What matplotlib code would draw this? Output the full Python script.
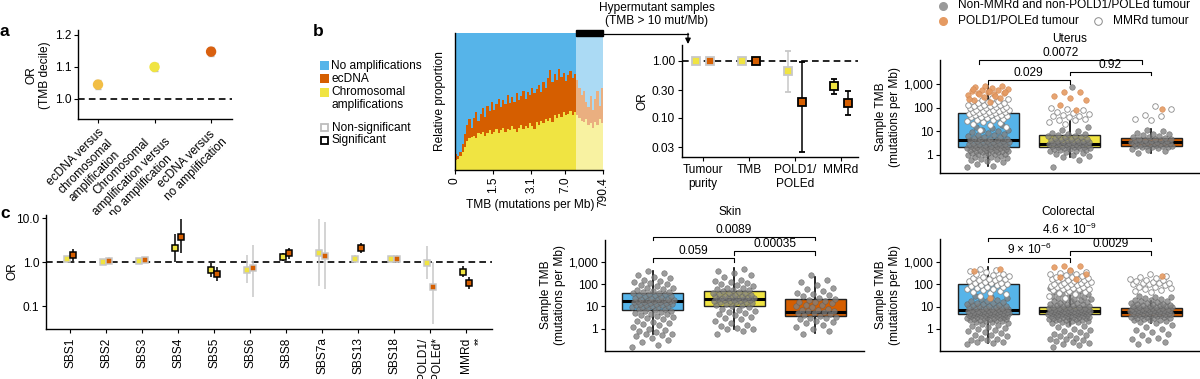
#!/usr/bin/env python3
"""ecDNA vs TMB multi-panel figure."""

import matplotlib

matplotlib.use("Agg")
import matplotlib.colors as mcolors
import matplotlib.pyplot as plt
import numpy as np
from matplotlib.patches import Rectangle
from matplotlib.ticker import NullLocator

W, H = 1200, 379
FS = 8.6
BLUE, ORANGE, YELLOW = "#56B4E9", "#D55E00", "#F0E442"
SIG_GREY = "#C8C8C8"

# ---- panel a ----
a_labels = [
    "ecDNA versus\nchromosomal\namplification",
    "Chromosomal\namplification versus\nno amplification",
    "ecDNA versus\nno amplification",
]
a_or = [1.045, 1.100, 1.148]
a_lo = [1.030, 1.088, 1.133]
a_hi = [1.060, 1.113, 1.163]
a_colors = ["#F2BE45", "#F0E442", "#D9600F"]

# ---- panel b, stacked proportions per TMB bin ----
bar_chrom = [
    0.07, 0.08, 0.10, 0.13, 0.17, 0.21, 0.23, 0.24, 0.25, 0.23,
    0.27, 0.26, 0.28, 0.25, 0.27, 0.29, 0.26, 0.28, 0.30, 0.27,
    0.29, 0.31, 0.28, 0.30, 0.29, 0.32, 0.30, 0.28, 0.31, 0.33,
    0.30, 0.32, 0.31, 0.34, 0.32, 0.30, 0.35, 0.33, 0.36, 0.34,
    0.37, 0.36, 0.38, 0.35, 0.40, 0.38, 0.41, 0.39, 0.42, 0.40,
    0.41, 0.43, 0.40, 0.42,
    0.40, 0.38, 0.36, 0.35, 0.37, 0.33, 0.34, 0.31, 0.35, 0.33, 0.37, 0.34,
]
bar_ecdna_top = [
    0.12, 0.10, 0.13, 0.19, 0.26, 0.33, 0.37, 0.31, 0.38, 0.42,
    0.36, 0.41, 0.45, 0.39, 0.47, 0.43, 0.50, 0.44, 0.48, 0.52,
    0.46, 0.51, 0.48, 0.55, 0.49, 0.53, 0.50, 0.56, 0.51, 0.54,
    0.58, 0.52, 0.57, 0.55, 0.60, 0.56, 0.59, 0.62, 0.57, 0.64,
    0.60, 0.67, 0.73, 0.64, 0.70, 0.66, 0.74, 0.68, 0.71, 0.65,
    0.69, 0.72, 0.67, 0.70,
    0.66, 0.60, 0.55, 0.58, 0.50, 0.46, 0.54, 0.44, 0.52, 0.58, 0.47, 0.60,
]
hyper_start = 54
tmb_tick_bins = [0, 17, 34, 49, 66]
tmb_tick_labels = ["0", "1.5", "3.1", "7.0", "790.4"]

# ---- panel b, odds ratios in hypermutant samples ----
or_cats = ["Tumour\npurity", "TMB", "POLD1/\nPOLEd", "MMRd"]
or_chrom = [1.0, 1.0, 0.67, 0.36]
or_chrom_lo = [0.97, 0.98, 0.28, 0.26]
or_chrom_hi = [1.03, 1.02, 1.5, 0.47]
or_chrom_sig = [False, False, False, True]
or_ecdna = [1.0, 1.0, 0.19, 0.18]
or_ecdna_lo = [0.97, 0.98, 0.025, 0.11]
or_ecdna_hi = [1.03, 1.02, 0.93, 0.29]
or_ecdna_sig = [False, True, True, True]

# ---- panel c ----
sbs_labels = ["SBS1", "SBS2", "SBS3", "SBS4", "SBS5", "SBS6", "SBS8", "SBS7a",
              "SBS13", "SBS18", "POLD1/\nPOLEd*", "MMRd"]
c_chrom = [1.17, 1.0, 1.05, 2.08, 0.67, 0.68, 1.3, 1.6, 1.18, 1.18, 0.97, 0.61]
c_chrom_lo = [1.0, 0.85, 0.92, 1.0, 0.47, 0.33, 1.05, 0.28, 0.95, 1.0, 0.42, 0.45]
c_chrom_hi = [1.4, 1.15, 1.2, 4.3, 0.98, 1.45, 1.6, 9.5, 1.45, 1.4, 2.4, 0.82]
c_chrom_sig = [False, False, False, True, True, False, True, False, False, False, False, True]
c_ecdna = [1.46, 1.07, 1.12, 3.8, 0.54, 0.75, 1.6, 1.35, 2.15, 1.18, 0.27, 0.34]
c_ecdna_lo = [1.05, 0.9, 0.95, 1.6, 0.38, 0.16, 1.2, 0.25, 1.65, 0.97, 0.038, 0.24]
c_ecdna_hi = [2.0, 1.3, 1.3, 9.5, 0.78, 2.5, 2.1, 8.2, 2.8, 1.45, 1.0, 0.47]
c_ecdna_sig = [True, False, False, True, True, False, True, False, True, False, False, True]

# ---- box plots: sample TMB per amplification class (none, chrom, ecDNA) ----
ut_q1 = [2.2, 2.25, 2.5]
ut_med = [4.2, 3.0, 3.6]
ut_q3 = [60, 7.0, 5.3]
ut_wlo = [0.35, 0.85, 1.2]
ut_whi = [870, 43, 12.7]
ut_pvals = ["0.029", "0.92", "0.0072"]
ut_other = [
    [0.3, 0.35, 0.42, 0.5, 0.55, 0.6, 0.65, 0.7, 0.75, 0.8, 0.85, 0.9, 0.95, 1.0, 1.05,
     1.1, 1.1, 1.2, 1.2, 1.3, 1.3, 1.4, 1.4, 1.5, 1.5, 1.6, 1.6, 1.7, 1.7, 1.8, 1.8, 1.9,
     1.9, 2.0, 2.0, 2.1, 2.1, 2.2, 2.2, 2.3, 2.4, 2.4, 2.5, 2.5, 2.6, 2.6, 2.7, 2.8, 2.9,
     3.0, 3.0, 3.1, 3.2, 3.3, 3.4, 3.5, 3.6, 3.8, 3.9, 4.0, 4.2, 4.4, 4.6, 4.8, 5.0, 5.3,
     5.6, 6.0, 6.4, 6.8, 7.3, 7.8, 8.5, 9.2, 10, 11, 12, 14, 16, 19],
    [0.3, 0.6, 0.8, 0.9, 1.0, 1.1, 1.2, 1.3, 1.4, 1.5, 1.6, 1.7, 1.8, 1.8, 1.9, 2.0, 2.0,
     2.1, 2.2, 2.2, 2.3, 2.4, 2.5, 2.5, 2.6, 2.7, 2.8, 2.8, 2.9, 3.0, 3.0, 3.1, 3.2, 3.3,
     3.3, 3.4, 3.5, 3.6, 3.7, 3.8, 4.0, 4.2, 4.4, 4.5, 4.6, 4.8, 5.0, 5.3, 5.6, 6.0, 6.2,
     6.5, 7.0, 7.5, 8.0, 9.0, 10, 12, 15, 750],
    [1.2, 1.4, 1.6, 1.8, 2.0, 2.1, 2.2, 2.2, 2.3, 2.4, 2.5, 2.5, 2.6, 2.7, 2.8, 2.9, 3.0,
     3.0, 3.1, 3.2, 3.3, 3.4, 3.5, 3.6, 3.6, 3.7, 3.8, 3.9, 4.0, 4.2, 4.2, 4.4, 4.6, 4.8,
     5.0, 5.3, 5.6, 6.0, 6.5, 7.0, 7.5, 8.0, 9.0, 10, 11],
]
ut_pole = [
    [180, 220, 260, 300, 340, 380, 420, 450, 480, 520, 560, 600, 650, 700, 760, 820, 880,
     250, 330, 400, 470, 550, 640],
    [82, 135, 220, 275, 325, 490, 490],
    [90],
]
ut_mmr = [
    [12, 15, 18, 20, 22, 25, 28, 30, 32, 35, 38, 40, 40, 42, 45, 48, 50, 52, 55, 58, 60,
     62, 65, 68, 70, 72, 75, 78, 80, 85, 90, 95, 100, 105, 110, 115, 120, 125, 130, 135,
     140, 150, 160, 170, 180, 190, 200, 210, 230, 260],
    [20, 25, 30, 30, 35, 40, 45, 45, 50, 55, 60, 70, 80, 90, 100],
    [30, 35, 45, 50, 90, 120],
]

skin_q1 = [6.9, 10.4, 3.7]
skin_med = [17.5, 21.5, 5.8]
skin_q3 = [39, 50, 21]
skin_wlo = [0.6, 1.0, 0.66]
skin_whi = [390, 510, 200]
skin_pvals = ["0.059", "0.00035", "0.0089"]
skin_other = [
    [0.15, 0.18, 0.25, 0.3, 0.4, 0.45, 0.5, 0.55, 0.6, 0.7, 0.8, 0.9, 1.0, 1.2, 1.4, 1.6,
     1.8, 2.0, 2.3, 2.6, 3.0, 3.3, 3.6, 4.0, 4.4, 4.8, 5.2, 5.6, 6.0, 6.5, 7.0, 7.5, 8.0,
     8.5, 9.0, 9.0, 9.5, 10, 10.5, 11, 11, 12, 12.5, 13, 13, 14, 14, 15, 16, 16, 17, 18,
     18, 19, 20, 20, 21, 22, 22, 24, 25, 26, 28, 30, 32, 34, 35, 36, 38, 40, 43, 46, 50,
     55, 60, 65, 70, 80, 90, 100, 110, 125, 140, 160, 180, 200, 250, 300, 400],
    [0.6, 0.8, 1.0, 1.0, 1.1, 1.3, 1.5, 1.8, 2.2, 2.6, 3.0, 3.5, 4.0, 4.5, 5.0, 5.5, 6.0,
     7.0, 8.0, 9.0, 10, 11, 12, 13, 14, 15, 15, 16, 17, 18, 18, 19, 20, 20, 21, 22, 23, 24,
     25, 25, 26, 28, 28, 30, 30, 32, 34, 36, 38, 40, 42, 45, 48, 52, 56, 60, 65, 70, 80,
     90, 100, 110, 120, 140, 160, 200, 250, 300, 400, 500],
    [0.6, 0.8, 1.0, 1.2, 1.5, 1.8, 2.0, 2.3, 2.6, 3.0, 3.0, 3.3, 3.6, 4.0, 4.5, 5.0, 5.0,
     5.5, 6.0, 6.5, 7.0, 7.0, 8.0, 9.0, 10, 11, 12, 14, 15, 16, 18, 20, 22, 25, 28, 32,
     36, 40, 50, 60, 70, 90, 120, 160, 250],
]
skin_pole = [[], [], []]
skin_mmr = [[], [], []]

col_q1 = [4.7, 4.7, 3.9]
col_med = [7.1, 6.6, 5.8]
col_q3 = [104, 10, 8.5]
col_wlo = [0.23, 1.5, 1.9]
col_whi = [620, 30, 17]
col_pvals = ["9 × 10$^{-6}$", "0.0029", "4.6 × 10$^{-9}$"]
col_other = [
    [0.2, 0.22, 0.25, 0.26, 0.3, 0.32, 0.35, 0.4, 0.45, 0.5, 0.55, 0.62, 0.7, 0.8, 0.9,
     1.0, 1.1, 1.2, 1.35, 1.5, 1.7, 1.8, 2.0, 2.1, 2.2, 2.3, 2.4, 2.5, 2.6, 2.7, 2.8, 2.9,
     3.0, 3.0, 3.1, 3.2, 3.3, 3.4, 3.5, 3.6, 3.7, 3.8, 3.9, 4.0, 4.0, 4.1, 4.2, 4.3, 4.4,
     4.5, 4.5, 4.6, 4.7, 4.8, 4.9, 5.0, 5.0, 5.1, 5.2, 5.3, 5.4, 5.5, 5.6, 5.7, 5.8, 5.9,
     6.0, 6.0, 6.2, 6.4, 6.6, 6.8, 7.0, 7.2, 7.4, 7.6, 7.8, 8.0, 8.3, 8.6, 9.0, 9.4, 9.8,
     10.2, 10.6, 11, 11.5, 12, 12.5, 13, 14, 15, 16, 17, 18, 20, 22, 25, 28, 30],
    [0.15, 0.18, 0.2, 0.22, 0.25, 0.28, 0.3, 0.33, 0.36, 0.4, 0.45, 0.5, 0.55, 0.6, 0.7,
     0.8, 0.9, 1.0, 1.2, 1.4, 1.6, 1.8, 2.0, 2.1, 2.2, 2.3, 2.4, 2.5, 2.6, 2.7, 2.8, 2.9,
     3.0, 3.1, 3.2, 3.3, 3.4, 3.5, 3.5, 3.6, 3.7, 3.8, 3.9, 4.0, 4.1, 4.2, 4.3, 4.4, 4.5,
     4.5, 4.6, 4.7, 4.8, 4.9, 5.0, 5.1, 5.2, 5.3, 5.4, 5.5, 5.5, 5.6, 5.7, 5.8, 5.9, 6.0,
     6.1, 6.2, 6.3, 6.4, 6.5, 6.5, 6.6, 6.7, 6.8, 6.9, 7.0, 7.2, 7.4, 7.5, 7.6, 7.8, 8.0,
     8.2, 8.4, 8.6, 8.8, 9.0, 9.3, 9.6, 10, 10.5, 11, 11.5, 12, 12.5, 13, 13.5, 14, 15, 16,
     17, 18, 19, 20, 21, 22, 24, 26, 28, 30, 32, 35, 38, 40, 45, 50, 60, 70, 80],
    [0.2, 0.25, 0.3, 0.35, 0.4, 0.5, 0.6, 0.7, 0.85, 1.0, 1.2, 1.5, 1.8, 2.0, 2.2, 2.4,
     2.5, 2.6, 2.8, 3.0, 3.0, 3.2, 3.3, 3.4, 3.5, 3.6, 3.8, 4.0, 4.0, 4.2, 4.3, 4.4, 4.5,
     4.6, 4.8, 4.8, 5.0, 5.0, 5.2, 5.3, 5.4, 5.5, 5.6, 5.8, 5.8, 6.0, 6.0, 6.2, 6.3, 6.4,
     6.5, 6.6, 6.8, 7.0, 7.0, 7.2, 7.3, 7.4, 7.5, 7.6, 7.8, 8.0, 8.3, 8.5, 8.6, 9.0, 9.4,
     9.5, 9.8, 10.2, 10.6, 11, 11.5, 11.5, 12, 12.5, 13, 13.5, 14, 15, 16, 17, 18, 19, 20,
     22, 24, 26, 28, 30],
]
col_pole = [[25, 400, 480], [180, 220, 300, 450, 600, 650, 700], [250]]
col_mmr = [
    [30, 35, 40, 45, 50, 55, 60, 65, 70, 75, 80, 85, 90, 95, 100, 110, 120, 120, 130, 140,
     150, 160, 170, 180, 190, 200, 220, 240, 260, 280, 300, 350, 400, 450, 500],
    [25, 30, 35, 40, 45, 50, 55, 60, 60, 65, 70, 75, 80, 80, 85, 90, 95, 100, 100, 105,
     110, 120, 130, 140, 150, 150, 160, 170, 180, 190, 200, 210, 220, 240, 260, 280, 300,
     330, 360, 400],
    [45, 50, 55, 60, 70, 80, 80, 90, 100, 100, 110, 120, 120, 130, 140, 150, 160, 180,
     200, 220, 250, 300],
]

plt.rcParams["font.family"] = ["Liberation Sans", "DejaVu Sans"]
plt.rcParams["font.size"] = FS
plt.rcParams["mathtext.fontset"] = "custom"
plt.rcParams["mathtext.rm"] = "Liberation Sans"
plt.rcParams["mathtext.default"] = "regular"

fig = plt.figure(figsize=(W / 100, H / 100), dpi=100)


def rect(l, t, r, b):
    return [l / W, 1 - b / H, (r - l) / W, (b - t) / H]


def clean(ax):
    for s in ("top", "right"):
        ax.spines[s].set_visible(False)
    for s in ("left", "bottom"):
        ax.spines[s].set_linewidth(1.0)
    ax.tick_params(length=3, width=0.8, pad=2, labelsize=FS, colors="k")


def lighten(c, amount=0.5):
    r = np.array(mcolors.to_rgb(c))
    return tuple(r + (1 - r) * amount)


def draw_or(ax, x, y, lo, hi, sig, color, ms, caps, mew):
    for i in range(len(y)):
        ec = "k" if sig[i] else SIG_GREY
        ax.errorbar(x[i], y[i], yerr=[[y[i] - lo[i]], [hi[i] - y[i]]], fmt="s",
                    ecolor=ec, mfc=color, mec=ec, ms=ms, mew=mew, elinewidth=1.1,
                    capsize=caps, capthick=1.0, zorder=3 if sig[i] else 2)


def jitter(n, width, phase):
    return ((np.arange(n) * 0.6180339887 + phase) % 1.0 - 0.5) * width


def bracket(ax, x0, x1, y, text):
    drop = 10 ** -0.16
    ax.plot([x0, x0, x1, x1], [y * drop, y, y, y * drop], color="k", lw=0.8,
            clip_on=False)
    ax.text((x0 + x1) / 2, y * 10 ** 0.04, text, ha="center", va="bottom",
            fontsize=FS, clip_on=False)


def box_panel(ax, q1, med, q3, wlo, whi, other, pole, mmr, ylim):
    clean(ax)
    stats = [dict(q1=q1[i], med=med[i], q3=q3[i], whislo=wlo[i], whishi=whi[i],
                  fliers=[]) for i in range(3)]
    bp = ax.bxp(stats, positions=[0, 1, 2], widths=0.75, patch_artist=True,
                showcaps=False, showfliers=False,
                boxprops=dict(edgecolor="#222222", linewidth=1.0),
                medianprops=dict(color="k", linewidth=2.2),
                whiskerprops=dict(color="k", linewidth=1.2), zorder=1)
    for patch, c in zip(bp["boxes"], [BLUE, YELLOW, ORANGE]):
        patch.set_facecolor(c)
    for i in range(3):
        v = other[i]
        ax.scatter(i + jitter(len(v), 0.52, 0.1 * i), v, s=16, c="#808080",
                   edgecolors="#5E5E5E", linewidths=0.4, alpha=0.78, zorder=2)
        v = mmr[i]
        if v:
            ax.scatter(i + jitter(len(v), 0.52, 0.3 + 0.1 * i), v, s=16, c="white",
                       edgecolors="#8A8A8A", linewidths=0.6, zorder=3)
        v = pole[i]
        if v:
            ax.scatter(i + jitter(len(v), 0.52, 0.55 + 0.1 * i), v, s=16, c="#E59A62",
                       edgecolors="#D08550", linewidths=0.4, alpha=0.9, zorder=4)
    ax.set_yscale("log")
    ax.set_ylim(*ylim)
    ax.set_xlim(-0.59, 2.6)
    ax.set_yticks([1, 10, 100, 1000])
    ax.set_yticklabels(["1", "10", "100", "1,000"])
    ax.yaxis.set_minor_locator(NullLocator())
    ax.set_xticks([])


# ---- panel a ----
ax = fig.add_axes(rect(78, 30, 232, 119))
clean(ax)
xa = np.arange(3)
ax.errorbar(xa, a_or, yerr=[np.subtract(a_or, a_lo), np.subtract(a_hi, a_or)],
            fmt="none", ecolor="#BDBDBD", elinewidth=1.0, capsize=2, zorder=2)
ax.scatter(xa, a_or, s=42, c=a_colors, zorder=3)
ax.axhline(1.0, color="k", lw=1.2, ls=(0, (4, 2.5)), zorder=1)
ax.set_xlim(-0.354, 2.37)
ax.set_ylim(0.9375, 1.2156)
ax.set_yticks([1.0, 1.1, 1.2])
ax.set_yticklabels(["1.0", "1.1", "1.2"])
ax.set_xticks(xa)
ax.set_xticklabels(a_labels, rotation=45, ha="right", rotation_mode="anchor",
                   multialignment="center")

# ---- panel b stacked bars ----
ax = fig.add_axes(rect(455, 33, 603, 170))
clean(ax)
n = len(bar_chrom)
xb = np.arange(n)
hyper = xb >= hyper_start


def shade(c):
    return [lighten(c, 0.5) if h else mcolors.to_rgb(c) for h in hyper]


ax.bar(xb, np.ones(n), width=1.0, align="edge", color=shade(BLUE), lw=0)
ax.bar(xb, bar_ecdna_top, width=1.0, align="edge", color=shade(ORANGE), lw=0)
ax.bar(xb, bar_chrom, width=1.0, align="edge", color=shade(YELLOW), lw=0)
ax.add_patch(Rectangle((hyper_start, 0.975), n - hyper_start, 0.048, color="k",
                       clip_on=False, zorder=5))
ax.set_xlim(0, n)
ax.set_ylim(0, 1)
ax.set_yticks([])
ax.set_xticks(tmb_tick_bins)
ax.set_xticklabels(tmb_tick_labels, rotation=90)

# ---- panel b odds ratios ----
ax = fig.add_axes(rect(682, 45, 858, 157))
clean(ax)
ax.set_yscale("log")
xo = np.arange(len(or_cats))
ax.axhline(1.0, color="k", lw=1.2, ls=(0, (4, 2.5)), zorder=1)
draw_or(ax, xo - 0.15, or_chrom, or_chrom_lo, or_chrom_hi, or_chrom_sig, YELLOW,
        6.0, 2, 1.3)
draw_or(ax, xo + 0.15, or_ecdna, or_ecdna_lo, or_ecdna_hi, or_ecdna_sig, ORANGE,
        6.0, 2, 1.3)
ax.set_xlim(-0.457, 3.37)
ax.set_ylim(0.0204, 1.88)
ax.set_yticks([0.03, 0.1, 0.3, 1.0])
ax.set_yticklabels(["0.03", "0.10", "0.30", "1.00"])
ax.yaxis.set_minor_locator(NullLocator())
ax.set_xticks(xo)
ax.set_xticklabels(or_cats)

# ---- panel c ----
ax = fig.add_axes(rect(46, 215, 492, 329))
clean(ax)
ax.set_yscale("log")
xc = np.arange(len(sbs_labels))
ax.axhline(1.0, color="k", lw=1.2, ls=(0, (4, 2.5)), zorder=1)
draw_or(ax, xc - 0.08, c_chrom, c_chrom_lo, c_chrom_hi, c_chrom_sig, YELLOW,
        4.6, 0, 1.1)
draw_or(ax, xc + 0.08, c_ecdna, c_ecdna_lo, c_ecdna_hi, c_ecdna_sig, ORANGE,
        4.6, 0, 1.1)
ax.set_xlim(-0.67, 11.72)
ax.set_ylim(0.03, 11.9)
ax.set_yticks([0.1, 1.0, 10.0])
ax.set_yticklabels(["0.1", "1.0", "10.0"])
ax.yaxis.set_minor_locator(NullLocator())
ax.set_xticks(xc)
ax.set_xticklabels(sbs_labels, rotation=90, va="top")
ax.tick_params(axis="x", pad=3)

# ---- box plots ----
ax = fig.add_axes(rect(940, 60, 1200, 173))
box_panel(ax, ut_q1, ut_med, ut_q3, ut_wlo, ut_whi, ut_other, ut_pole, ut_mmr,
          (0.17, 11000))
bracket(ax, 0, 1, 1550, ut_pvals[0])
bracket(ax, 1, 2, 3500, ut_pvals[1])
bracket(ax, -0.11, 1.89, 11000, ut_pvals[2])

ax = fig.add_axes(rect(605, 240, 864, 351))
box_panel(ax, skin_q1, skin_med, skin_q3, skin_wlo, skin_whi, skin_other, skin_pole,
          skin_mmr, (0.1, 9500))
bracket(ax, 0, 1, 1440, skin_pvals[0])
bracket(ax, 1, 2, 3030, skin_pvals[1])
bracket(ax, 0, 2, 13400, skin_pvals[2])

ax = fig.add_axes(rect(940, 239, 1200, 351))
box_panel(ax, col_q1, col_med, col_q3, col_wlo, col_whi, col_other, col_pole,
          col_mmr, (0.1, 11000))
bracket(ax, 0, 1, 1480, col_pvals[0])
bracket(ax, 1, 2, 3160, col_pvals[1])
bracket(ax, 0, 2, 12300, col_pvals[2])

# ---- overlay: panel letters, legends, labels, annotations (pixel coords) ----
ov = fig.add_axes([0, 0, 1, 1])
ov.set_xlim(0, W)
ov.set_ylim(H, 0)
ov.axis("off")
ov.patch.set_alpha(0)

for x, y, s in [(0, 31, "a"), (313, 31, "b"), (0, 214, "c")]:
    ov.text(x, y, s, fontsize=12.5, fontweight="bold", ha="left", va="center")

ov.text(38, 75, "OR\n(TMB decile)", rotation=90, ha="center", va="center",
        multialignment="center")
ov.text(440, 101, "Relative proportion", rotation=90, ha="center", va="center")
ov.text(530, 205, "TMB (mutations per Mb)", ha="center", va="center")
ov.text(643, 101, "OR", rotation=90, ha="center", va="center")
ov.text(13, 271, "OR", rotation=90, ha="center", va="center")
ov.text(479, 341, "**", rotation=90, ha="center", va="center", fontsize=7.5)
for x, y in [(888, 117), (553, 295), (888, 295)]:
    ov.text(x, y, "Sample TMB\n(mutations per Mb)", rotation=90, ha="center",
            va="center", multialignment="center")
ov.text(1070, 39, "Uterus", ha="center", va="center")
ov.text(730, 212, "Skin", ha="center", va="center")
ov.text(1068, 212, "Colorectal", ha="center", va="center")

# amplification legend
for y, c in [(65.5, BLUE), (78.5, ORANGE), (92, YELLOW)]:
    ov.add_patch(Rectangle((319.5, y - 4.5), 9, 9, facecolor=c, edgecolor="none"))
ov.text(331, 65.5, "No amplifications", va="center")
ov.text(331, 78.5, "ecDNA", va="center")
ov.text(331, 98.5, "Chromosomal\namplifications", va="center")
ov.add_patch(Rectangle((321, 124), 7, 7, facecolor="white", edgecolor="#BDBDBD", lw=1.3))
ov.add_patch(Rectangle((321, 136.5), 7, 7, facecolor="white", edgecolor="k", lw=1.3))
ov.text(332, 127.5, "Non-significant", va="center")
ov.text(332, 140, "Significant", va="center")

# hypermutant annotation
ov.text(657, 14.5, "Hypermutant samples\n(TMB > 10 mut/Mb)", ha="center", va="center",
        multialignment="center")
ov.plot([603, 688], [33.5, 33.5], color="k", lw=0.9)
ov.annotate("", xy=(688, 44), xytext=(688, 33.3),
            arrowprops=dict(arrowstyle="-|>", color="k", lw=0.9, mutation_scale=8,
                            shrinkA=0, shrinkB=0))

# tumour-class legend
ov.scatter([943], [5.5], s=30, c="#9A9A9A", edgecolors="#9A9A9A")
ov.scatter([943], [20.7], s=30, c="#E59A62", edgecolors="#E59A62")
ov.scatter([1098], [20.7], s=30, c="white", edgecolors="#8A8A8A", linewidths=0.7)
ov.text(958, 5.5, "Non-MMRd and non-POLD1/POLEd tumour", va="center")
ov.text(958, 20.7, "POLD1/POLEd tumour", va="center")
ov.text(1113, 20.7, "MMRd tumour", va="center")

fig.savefig("out.png", dpi=100)
plt.close(fig)
